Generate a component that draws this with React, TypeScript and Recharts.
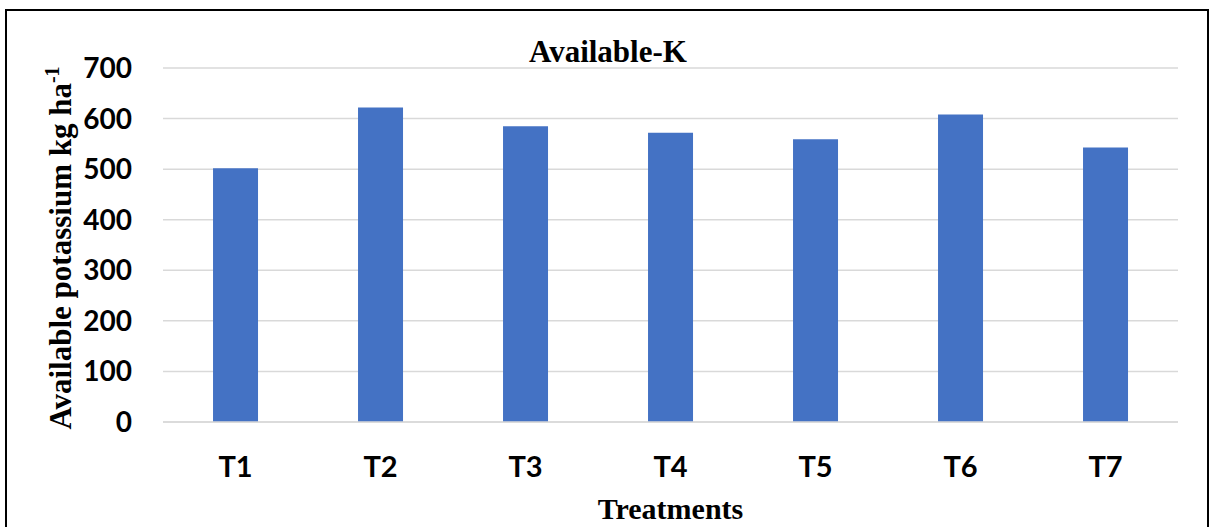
import React from 'react';
import { BarChart, Bar, XAxis, YAxis, CartesianGrid } from 'recharts';

const treatments = ['T1', 'T2', 'T3', 'T4', 'T5', 'T6', 'T7'];
const availableK = [502, 622, 585, 572, 559, 608, 543];
const yTicks = [0, 100, 200, 300, 400, 500, 600, 700];

const data = treatments.map((t, i) => ({ treatment: t, k: availableK[i] }));

const serif = '"Liberation Serif", "Times New Roman", serif';
const sans = 'Lato, "Open Sans", sans-serif';

const YLabel = (props: any) => {
  const { viewBox } = props;
  const x = 71;
  const y = viewBox.y + viewBox.height / 2 + 3;
  return (
    <text
      x={x}
      y={y}
      transform={`rotate(-90 ${x} ${y})`}
      textAnchor="middle"
      fontFamily={serif}
      fontWeight="bold"
      fontSize={31}
      fill="#000"
    >
      Available  potassium kg ha
      <tspan dy={-12} fontSize={20}>-1</tspan>
    </text>
  );
};

const XLabel = (props: any) => {
  const { viewBox } = props;
  return (
    <text
      x={viewBox.x + viewBox.width / 2}
      y={519}
      textAnchor="middle"
      fontFamily={serif}
      fontWeight="bold"
      fontSize={30}
      fill="#000"
    >
      Treatments
    </text>
  );
};

const App: React.FC = () => {
  return (
    <div
      style={{
        position: 'absolute',
        left: 0,
        top: 0,
        width: 1211,
        height: 527,
        overflow: 'hidden',
        background: '#fff',
      }}
    >
      <div
        style={{
          position: 'absolute',
          left: 5,
          top: 9,
          width: 1204,
          height: 600,
          border: '2px solid #000',
          boxSizing: 'border-box',
        }}
      />
      <div
        style={{
          position: 'absolute',
          left: 0,
          width: 1216,
          top: 36,
          textAlign: 'center',
          fontFamily: serif,
          fontWeight: 'bold',
          fontSize: 31,
          lineHeight: '32px',
          color: '#000',
        }}
      >
        Available-K
      </div>
      <BarChart
        width={1211}
        height={527}
        data={data}
        margin={{ top: 68, right: 33, left: 0, bottom: 0 }}
        barCategoryGap="34.5%"
        style={{ position: 'absolute', left: 0, top: 0 }}
      >
        <CartesianGrid vertical={false} stroke="#d9d9d9" strokeWidth={1.5} />
        <XAxis
          dataKey="treatment"
          height={105}
          axisLine={{ stroke: '#d9d9d9', strokeWidth: 1.5 }}
          tickLine={false}
          tickSize={0}
          tickMargin={34}
          tick={{ fill: '#000', fontFamily: sans, fontWeight: 'bold', fontSize: 29 }}
          label={<XLabel />}
        />
        <YAxis
          width={163}
          domain={[0, 700]}
          ticks={yTicks}
          interval={0}
          axisLine={false}
          tickLine={false}
          tickSize={0}
          tickMargin={31}
          tick={{ fill: '#000', fontFamily: sans, fontWeight: 'bold', fontSize: 28 }}
          label={<YLabel />}
        />
        <Bar dataKey="k" fill="#4472C4" isAnimationActive={false} />
      </BarChart>
    </div>
  );
};

export default App;
